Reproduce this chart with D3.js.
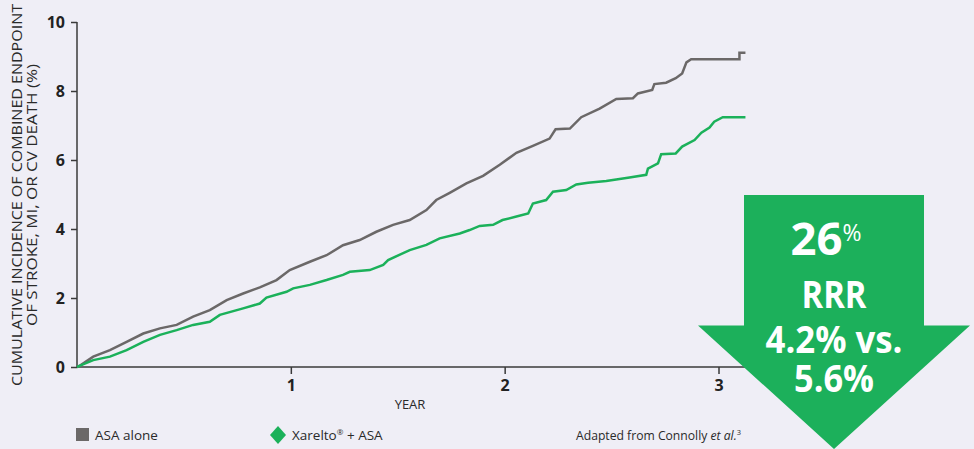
<!DOCTYPE html>
<html>
<head>
    <meta charset="utf-8">
    <title>Cumulative incidence chart</title>
    <script src="https://cdnjs.cloudflare.com/ajax/libs/d3/7.8.5/d3.min.js"></script>
    <style>
        body { margin: 0; background: #efeef6; }
        svg text { font-family: "Open Sans", "Noto Sans", sans-serif; }
    </style>
</head>
<body>
<div id="chart"></div>

<script type="text/javascript">
    // ---- data (year, cumulative %) ----
    var asaYears = [0, 0.014, 0.076, 0.154, 0.232, 0.31, 0.388, 0.466, 0.543, 0.621, 0.70, 0.777, 0.855, 0.933, 0.995,
        1.089, 1.167, 1.244, 1.322, 1.40, 1.478, 1.556, 1.634, 1.68, 1.743, 1.821, 1.899, 1.977, 2.055, 2.132,
        2.21, 2.238, 2.305, 2.358, 2.444, 2.522, 2.60, 2.623, 2.69, 2.70, 2.755, 2.80, 2.83, 2.85, 2.872, 3.098, 3.098, 3.126];
    var asaValues = [0, 0.04, 0.30, 0.49, 0.73, 0.97, 1.12, 1.22, 1.46, 1.65, 1.94, 2.13, 2.31, 2.52, 2.81,
        3.05, 3.24, 3.53, 3.68, 3.92, 4.12, 4.26, 4.55, 4.84, 5.05, 5.32, 5.54, 5.86, 6.21, 6.41,
        6.62, 6.89, 6.91, 7.24, 7.49, 7.77, 7.79, 7.93, 8.03, 8.20, 8.24, 8.37, 8.51, 8.83, 8.92, 8.92, 9.11, 9.11];

    var xarYears = [0, 0.014, 0.076, 0.154, 0.232, 0.31, 0.388, 0.466, 0.543, 0.621, 0.668, 0.777, 0.855, 0.886, 0.98,
        1.011, 1.089, 1.167, 1.244, 1.276, 1.369, 1.432, 1.455, 1.556, 1.634, 1.696, 1.79, 1.836, 1.883, 1.946,
        1.99, 2.055, 2.11, 2.132, 2.194, 2.226, 2.288, 2.335, 2.39, 2.475, 2.584, 2.662, 2.67, 2.717, 2.732,
        2.80, 2.83, 2.888, 2.92, 2.958, 2.98, 3.02, 3.126];
    var xarValues = [0, 0.04, 0.20, 0.30, 0.49, 0.73, 0.93, 1.07, 1.22, 1.31, 1.51, 1.70, 1.84, 2.01, 2.18,
        2.28, 2.38, 2.52, 2.67, 2.76, 2.81, 2.96, 3.10, 3.39, 3.54, 3.73, 3.87, 3.97, 4.09, 4.12,
        4.26, 4.36, 4.45, 4.74, 4.84, 5.08, 5.13, 5.29, 5.34, 5.39, 5.49, 5.57, 5.75, 5.90, 6.17,
        6.19, 6.39, 6.58, 6.79, 6.94, 7.11, 7.24, 7.24];

    var yTicks = [0, 2, 4, 6, 8, 10];
    var xTicks = [1, 2, 3];
    var legendLabels = ["ASA alone", "Xarelto", "\u00AE", " + ASA"];
    var arrowLines = ["RRR", "4.2% vs.", "5.6%"];

    var width = 974,
        height = 449;

    var gray = "#6b6868",
        green = "#1bb15a",
        arrowGreen = "#1cb05b",
        axisColor = "#3a3a3a";

    var svg = d3.select("#chart").append("svg")
        .attr("width", width)
        .attr("height", height);

    svg.append("rect").attr("width", width).attr("height", height).attr("fill", "#efeef6");

    var x = d3.scaleLinear().domain([0, 3]).range([77, 718.5]);
    var y = d3.scaleLinear().domain([0, 10]).range([367, 22]);

    ////////////////////////// Axes //////////////////////////
    var yAxis = svg.append("g")
        .attr("transform", "translate(77,0)")
        .call(d3.axisLeft(y).tickValues(yTicks).tickSize(6).tickPadding(6));
    yAxis.select(".domain").attr("stroke", axisColor).attr("stroke-width", 1.5).attr("d", "M0," + y(10) + "V" + y(0));
    yAxis.selectAll(".tick line").attr("stroke", axisColor).attr("stroke-width", 1.5);
    yAxis.selectAll(".tick text")
        .attr("fill", "#222").style("font-size", "16px").style("font-weight", "bold")
        .style("font-family", "'Open Sans', sans-serif");

    var xAxis = svg.append("g")
        .attr("transform", "translate(0,367)")
        .call(d3.axisBottom(x).tickValues(xTicks).tickSize(7).tickPadding(6).tickFormat(d3.format("d")));
    xAxis.select(".domain").attr("stroke", axisColor).attr("stroke-width", 1.5).attr("d", "M77,0H748");
    xAxis.selectAll(".tick line").attr("stroke", axisColor).attr("stroke-width", 1.5);
    xAxis.selectAll(".tick text")
        .attr("fill", "#222").style("font-size", "16px").style("font-weight", "bold")
        .style("font-family", "'Open Sans', sans-serif");

    svg.append("text")
        .attr("x", 410).attr("y", 409)
        .attr("text-anchor", "middle")
        .attr("fill", "#2a2a2a")
        .style("font-size", "13px")
        .text("YEAR");

    // rotated y title, two lines
    var yTitle = svg.append("g").attr("transform", "translate(0,195) rotate(-90)");
    yTitle.append("text")
        .attr("x", 0).attr("y", 22)
        .attr("text-anchor", "middle")
        .attr("fill", "#2a2a2a")
        .attr("textLength", 382).attr("lengthAdjust", "spacingAndGlyphs")
        .style("font-size", "14.5px")
        .text("CUMULATIVE INCIDENCE OF COMBINED ENDPOINT");
    yTitle.append("text")
        .attr("x", 0).attr("y", 37)
        .attr("text-anchor", "middle")
        .attr("fill", "#2a2a2a")
        .attr("textLength", 262).attr("lengthAdjust", "spacingAndGlyphs")
        .style("font-size", "14.5px")
        .text("OF STROKE, MI, OR CV DEATH (%)");

    ////////////////////////// Lines //////////////////////////
    var line = d3.line()
        .x(function(d) { return x(d[0]); })
        .y(function(d) { return y(d[1]); });

    var asaData = d3.zip(asaYears, asaValues);
    var xarData = d3.zip(xarYears, xarValues);

    svg.append("path")
        .datum(asaData)
        .attr("fill", "none")
        .attr("stroke", gray)
        .attr("stroke-width", 2.5)
        .attr("stroke-linejoin", "miter")
        .attr("d", line);

    svg.append("path")
        .datum(xarData)
        .attr("fill", "none")
        .attr("stroke", green)
        .attr("stroke-width", 2.5)
        .attr("d", line);

    ////////////////////////// Arrow //////////////////////////
    var arrow = svg.append("g");
    arrow.append("path")
        .attr("d", "M744,195H924V325.5H970L834,449L698,325.5H744Z")
        .attr("fill", arrowGreen);

    var big = arrow.append("text")
        .attr("x", 826).attr("y", 255)
        .attr("text-anchor", "middle")
        .attr("fill", "#fff")
        .style("font-weight", "bold")
        .style("font-size", "45px");
    big.append("tspan").attr("textLength", 52).attr("lengthAdjust", "spacingAndGlyphs").text("26");
    big.append("tspan")
        .attr("dy", -14)
        .style("font-size", "23px")
        .style("font-weight", "normal")
        .text("%");

    var lineY = [308, 353, 392];
    var lineW = [65, 137, 80];
    arrow.selectAll(".arrow-line")
        .data(arrowLines)
        .enter().append("text")
        .attr("class", "arrow-line")
        .attr("x", 834)
        .attr("y", function(d, i) { return lineY[i]; })
        .attr("text-anchor", "middle")
        .attr("fill", "#fff")
        .attr("textLength", function(d, i) { return lineW[i]; })
        .attr("lengthAdjust", "spacingAndGlyphs")
        .style("font-weight", "bold")
        .style("font-size", "37px")
        .text(function(d) { return d; });

    ////////////////////////// Legend //////////////////////////
    svg.append("rect")
        .attr("x", 76).attr("y", 428).attr("width", 13).attr("height", 13)
        .attr("fill", gray);
    svg.append("text")
        .attr("x", 95).attr("y", 440)
        .attr("fill", "#2a2a2a")
        .style("font-size", "13.5px")
        .text(legendLabels[0]);

    svg.append("path")
        .attr("d", "M278,426L286,435L278,444L270,435Z")
        .attr("fill", green);
    var leg2 = svg.append("text")
        .attr("x", 292).attr("y", 440)
        .attr("fill", "#2a2a2a")
        .style("font-size", "13.5px");
    leg2.append("tspan").text(legendLabels[1]);
    leg2.append("tspan").attr("dy", -5).style("font-size", "8px").text(legendLabels[2]);
    leg2.append("tspan").attr("dy", 5).text(legendLabels[3]);

    var src = svg.append("text")
        .attr("x", 741).attr("y", 440)
        .attr("text-anchor", "end")
        .attr("fill", "#2a2a2a")
        .attr("textLength", 165).attr("lengthAdjust", "spacingAndGlyphs")
        .style("font-size", "13px");
    src.append("tspan").text("Adapted from Connolly ");
    src.append("tspan").style("font-style", "italic").text("et al.");
    src.append("tspan").attr("dy", -5).style("font-size", "8px").text("3");
</script>
</body>
</html>
